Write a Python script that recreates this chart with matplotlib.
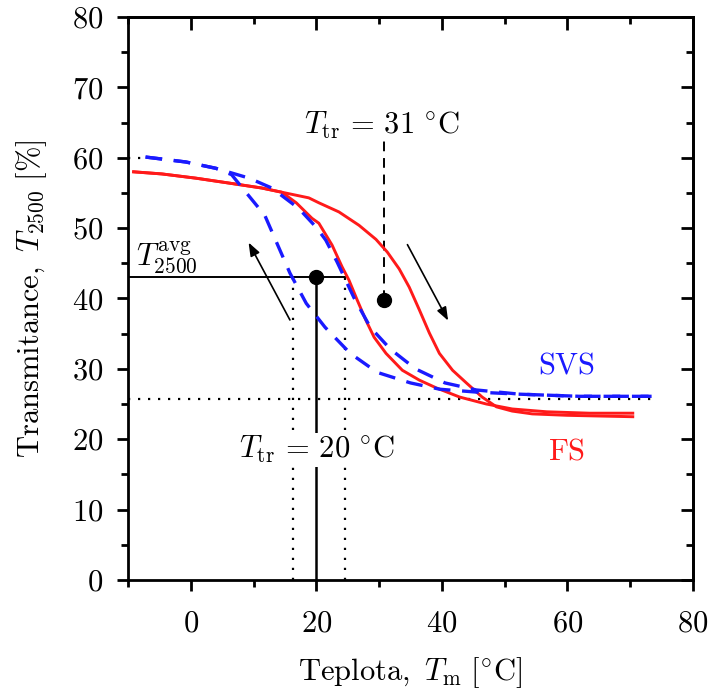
import matplotlib
matplotlib.use("Agg")
import matplotlib.pyplot as plt
from matplotlib.ticker import MultipleLocator

plt.rcParams['font.family'] = ['cmr10', 'DejaVu Serif']
plt.rcParams['mathtext.fontset'] = 'cm'
plt.rcParams['axes.formatter.use_mathtext'] = True

# ---- data ----
fs_heat_x = [-9.1, -4.6, 0.8, 6.1, 11.3, 14.5, 18.8, 20.4, 23.6, 26.8, 29.5, 31.3, 33.2, 34.8, 36.4,
             38.0, 39.6, 41.7, 43.9, 46.4, 48.7, 51.2, 54.4, 59.9, 65.0, 70.4]
fs_heat_y = [58.0, 57.7, 57.1, 56.4, 55.7, 55.1, 54.3, 53.6, 52.3, 50.4, 48.4, 46.6, 44.2, 41.6, 38.4,
             35.1, 32.2, 29.8, 28.0, 26.0, 24.6, 24.0, 23.6, 23.4, 23.3, 23.2]
fs_cool_x = [-9.1, -4.6, 0.8, 6.1, 11.3, 14.5, 16.8, 19.3, 20.4, 22.5, 24.1, 25.2, 26.5, 27.9, 29.2,
             31.1, 33.7, 36.4, 39.1, 42.8, 47.1, 51.2, 56.7, 63.5, 70.4]
fs_cool_y = [58.0, 57.7, 57.1, 56.4, 55.7, 55.1, 53.6, 51.4, 50.7, 47.6, 44.5, 42.6, 39.8, 36.9, 34.5,
             32.2, 29.8, 28.4, 27.3, 26.0, 25.0, 24.3, 23.9, 23.7, 23.7]

svs_heat_x = [-7.2, -0.8, 4.0, 9.3, 12.9, 17.2, 20.0, 21.5, 23.3, 26.0, 28.6, 31.8, 35.8, 40.5, 45.5,
              52.4, 61.9, 73.4]
svs_heat_y = [60.1, 59.4, 58.5, 57.1, 55.7, 52.8, 50.1, 48.3, 45.2, 40.1, 35.9, 32.8, 30.0, 28.0, 27.0,
              26.4, 26.1, 26.1]
svs_cool_x = [-7.2, -0.8, 4.0, 6.5, 8.5, 11.8, 13.7, 15.8, 18.4, 21.4, 25.4, 29.7, 35.0, 39.7, 45.5,
              52.4, 61.9, 73.4]
svs_cool_y = [60.1, 59.4, 58.5, 57.6, 55.4, 51.8, 47.9, 43.6, 39.3, 35.9, 32.2, 29.5, 28.0, 27.1, 26.7,
              26.4, 26.1, 26.1]

t_max = 60.0
t_min = 25.7
t_avg = 43.0
ttr_low = 20.0
ttr_high = 30.8
ttr_high_y = 39.8
width_left = 16.3
width_right = 24.6

xticks = [0, 20, 40, 60, 80]
yticks = [0, 10, 20, 30, 40, 50, 60, 70, 80]

fig = plt.figure(figsize=(7.13, 6.97), dpi=100)
ax = fig.add_axes([0.1795, 0.1679, 0.7925, 0.8077])

ax.set_xlim(-10, 80)
ax.set_ylim(0, 80)

# helper lines
dot = (0, (1, 3.5))
ax.plot([-10, 73.4], [t_min, t_min], color='black', lw=1.6, ls=dot, zorder=1)
ax.plot([-10, -7.2], [t_max, t_max], color='black', lw=1.6, ls=dot, zorder=1)
ax.plot([-10, width_right], [t_avg, t_avg], color='black', lw=1.4, zorder=2)
ax.plot([width_left, width_left], [0, t_avg], color='black', lw=1.6, ls=dot, zorder=1)
ax.plot([width_right, width_right], [0, t_avg], color='black', lw=1.6, ls=dot, zorder=1)
ax.plot([ttr_low, ttr_low], [0, t_avg], color='black', lw=1.8, zorder=2)
ax.plot([ttr_high, ttr_high], [ttr_high_y, 62.5], color='black', lw=1.4, ls=(0, (5, 3.5)), zorder=2)
ax.plot([ttr_low], [t_avg], 'o', color='black', ms=10, zorder=5)
ax.plot([ttr_high], [ttr_high_y], 'o', color='black', ms=10, zorder=5)

# curves
ax.plot(fs_heat_x, fs_heat_y, color='#ff1a1a', lw=2.1, zorder=3, solid_joinstyle='round')
ax.plot(fs_cool_x, fs_cool_y, color='#ff1a1a', lw=2.1, zorder=3, solid_joinstyle='round')
ax.plot(svs_heat_x, svs_heat_y, color='#1a1aff', lw=2.4, ls=(0, (5, 3.5)), zorder=4)
ax.plot(svs_cool_x, svs_cool_y, color='#1a1aff', lw=2.4, ls=(0, (5, 3.5)), zorder=4)

# arrows
ax.annotate('', xy=(9.0, 48.3), xytext=(16.0, 36.6),
            arrowprops=dict(arrowstyle='-|>,head_length=0.8,head_width=0.3', color='black', lw=1.2))
ax.annotate('', xy=(41.2, 36.5), xytext=(34.3, 48.0),
            arrowprops=dict(arrowstyle='-|>,head_length=0.8,head_width=0.3', color='black', lw=1.2))

# texts
fs_txt = 22
ax.text(30.5, 64.6, r'$T_{\mathrm{tr}}\,=\,31\ ^{\circ}\mathrm{C}$', fontsize=fs_txt, ha='center', va='center', zorder=6)
ax.text(20.1, 18.5, r'$T_{\mathrm{tr}}\,=\,20\ ^{\circ}\mathrm{C}$', fontsize=fs_txt, ha='center', va='center', zorder=6,
        bbox=dict(facecolor='white', edgecolor='none', pad=1))
ax.text(-3.8, 45.8, r'$T_{2500}^{\mathrm{avg}}$', fontsize=fs_txt, ha='center', va='center', zorder=6)
ax.text(59.9, 30.5, r'$\mathrm{SVS}$', fontsize=fs_txt, color='#1a1aff', ha='center', va='center')
ax.text(59.9, 18.2, r'$\mathrm{FS}$', fontsize=fs_txt, color='#ff1a1a', ha='center', va='center')

ax.set_xlabel(r'$\mathrm{Teplota,}\ T_{\mathrm{m}}\ [^{\circ}\mathrm{C}]$', fontsize=22, labelpad=12)
ax.set_ylabel(r'$\mathrm{Transmitance,}\ T_{2500}\ [\%]$', fontsize=22, labelpad=16)

ax.set_xticks(xticks)
ax.set_yticks(yticks)
ax.xaxis.set_minor_locator(MultipleLocator(10))
ax.yaxis.set_minor_locator(MultipleLocator(5))
ax.tick_params(which='both', direction='out', width=2, labelsize=22, top=False, right=False)
ax.tick_params(which='major', length=8)
ax.tick_params(axis='x', which='major', pad=14)
ax.tick_params(axis='y', which='major', pad=10)
ax.tick_params(which='minor', length=5)
for s in ax.spines.values():
    s.set_linewidth(2)

sx = ax.secondary_xaxis('top')
sx.set_xticks(xticks)
sx.xaxis.set_minor_locator(MultipleLocator(10))
sx.tick_params(which='both', direction='in', width=2, labeltop=False)
sx.tick_params(which='major', length=9)
sx.tick_params(which='minor', length=5)
sy = ax.secondary_yaxis('right')
sy.set_yticks(yticks)
sy.yaxis.set_minor_locator(MultipleLocator(5))
sy.tick_params(which='both', direction='in', width=2, labelright=False)
sy.tick_params(which='major', length=9)
sy.tick_params(which='minor', length=5)
for s in list(sx.spines.values()) + list(sy.spines.values()):
    s.set_linewidth(2)

fig.savefig('out.png', dpi=100)
